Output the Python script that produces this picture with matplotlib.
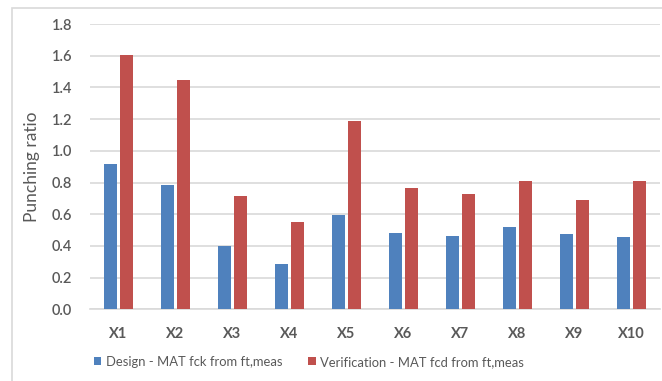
import matplotlib
matplotlib.use("Agg")
import matplotlib.pyplot as plt
from matplotlib.patches import Rectangle
import numpy as np

# Punching ratio per specimen
specimens = ["X1", "X2", "X3", "X4", "X5", "X6", "X7", "X8", "X9", "X10"]
design_fck = [0.915, 0.784, 0.401, 0.288, 0.595, 0.480, 0.462, 0.517, 0.475, 0.458]
verification_fcd = [1.603, 1.449, 0.715, 0.549, 1.190, 0.763, 0.727, 0.808, 0.690, 0.811]

BLUE = "#4F81BD"
RED = "#C0504D"
GRID = "#D9D9D9"
TEXT = "#595959"

plt.rcParams["font.family"] = ["Lato", "DejaVu Sans"]

fig = plt.figure(figsize=(6.62, 3.81), dpi=100)
ax = fig.add_axes([90 / 662, 1 - 309.3 / 381, 570 / 662, (309.3 - 24) / 381])

x = np.arange(len(specimens))
width = 0.228
offset = 0.14
ax.bar(x - offset, design_fck, width, color=BLUE, label="Design - MAT fck from ft,meas", zorder=3)
ax.bar(x + offset, verification_fcd, width, color=RED, label="Verification - MAT fcd from ft,meas", zorder=3)

ax.set_xlim(-0.5, len(specimens) - 0.5)
ax.set_ylim(0, 1.8)
ax.set_yticks(np.arange(0, 1.81, 0.2))
ax.yaxis.set_major_formatter(matplotlib.ticker.FormatStrFormatter("%.1f"))
ax.set_xticks(x)
ax.set_xticklabels(specimens)

ax.grid(axis="y", color=GRID, linewidth=1.2, zorder=0)
for side in ["top", "right", "left"]:
    ax.spines[side].set_visible(False)
ax.spines["bottom"].set_color(GRID)
ax.spines["bottom"].set_linewidth(1.2)
ax.tick_params(axis="both", length=0, colors=TEXT)
ax.tick_params(axis="x", pad=13, labelsize=10.5)
ax.tick_params(axis="y", pad=13, labelsize=10.5)
for lbl in ax.get_xticklabels():
    lbl.set_fontweight("bold")
for lbl in ax.get_yticklabels():
    lbl.set_fontweight("semibold")

ax.set_ylabel("Punching ratio", color=TEXT, fontsize=12.5, labelpad=8)

ax.legend(loc="center", bbox_to_anchor=(309 / 662, (381 - 362) / 381), bbox_transform=fig.transFigure,
          ncol=2, frameon=False, fontsize=9.4, labelcolor=TEXT,
          handlelength=0.55, handleheight=0.55, handletextpad=0.35, columnspacing=2.0)

# chart area border
fig.patches.append(Rectangle((12 / 662, -0.1), 1.0, 1 - 8 / 381 + 0.1,
                             transform=fig.transFigure, fill=False,
                             edgecolor=GRID, linewidth=1.2))

fig.savefig("out.png", dpi=100)
